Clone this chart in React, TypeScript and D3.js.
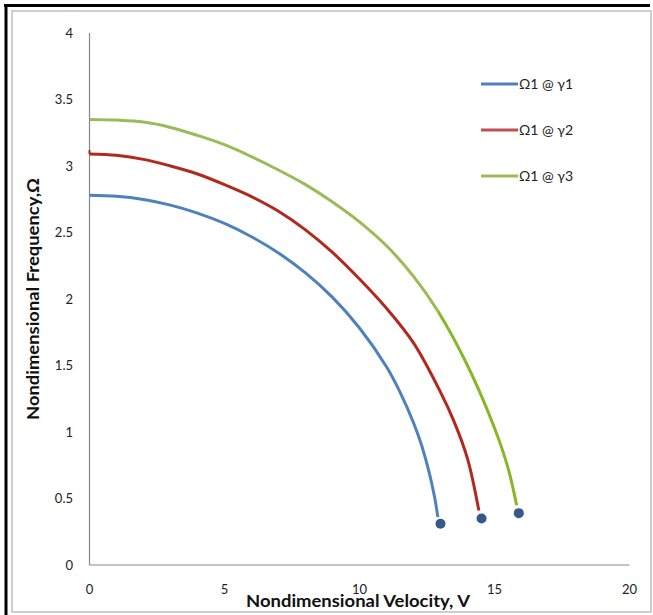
import React from "react";
import * as d3 from "d3";

const xTicks = [0, 5, 10, 15, 20];
const yTicks = [0, 0.5, 1, 1.5, 2, 2.5, 3, 3.5, 4];
const yTickLabels = ["0", "0.5", "1", "1.5", "2", "2.5", "3", "3.5", "4"];

const velocity1 = [0, 1, 2, 3, 4, 5, 6, 7, 8, 9, 10, 11, 11.5, 12, 12.3, 12.6, 12.8, 12.9];
const omega1 = [2.78, 2.772, 2.748, 2.706, 2.646, 2.568, 2.468, 2.346, 2.196, 2.012, 1.782, 1.49, 1.3, 1.07, 0.9, 0.68, 0.49, 0.36];

const redStartVelocity = [0, 0];
const redStartOmega = [3.12, 3.09];
const velocity2 = [0, 1, 2, 3, 4, 5, 6, 7, 8, 9, 10, 11, 12, 13, 13.5, 14, 14.42];
const omega2 = [3.09, 3.08, 3.05, 3.0, 2.94, 2.86, 2.77, 2.66, 2.52, 2.35, 2.15, 1.93, 1.67, 1.3, 1.08, 0.8, 0.41];

const velocity3 = [0, 1, 2, 3, 4, 5, 6, 7, 8, 9, 10, 11, 12, 12.9, 14, 15, 15.5, 15.82];
const omega3 = [3.35, 3.345, 3.33, 3.29, 3.23, 3.16, 3.07, 2.97, 2.86, 2.73, 2.58, 2.4, 2.17, 1.91, 1.5, 1.03, 0.73, 0.45];
const greenSplitVelocity = 12.9;

const endVelocity = [13.0, 14.52, 15.9];
const endOmega = [0.31, 0.35, 0.39];

const seriesNames = ["Ω1 @ γ1", "Ω1 @ γ2", "Ω1 @ γ3"];
const seriesColors = ["#4F81BD", "#B2281C", "#9BBB59"];
const greenLowerColor = "#86B825";
const legendColors = ["#4F81BD", "#C0504D", "#9BBB59"];

export default function App() {
  const x = d3.scaleLinear().domain([0, 20]).range([89.5, 629.5]);
  const y = d3.scaleLinear().domain([0, 4]).range([565, 33]);
  const line = d3
    .line<[number, number]>()
    .x((d) => x(d[0]))
    .y((d) => y(d[1]))
    .curve(d3.curveCatmullRom.alpha(0.5));
  const straight = d3
    .line<[number, number]>()
    .x((d) => x(d[0]))
    .y((d) => y(d[1]));

  const s1 = velocity1.map((v, i) => [v, omega1[i]] as [number, number]);
  const s2 = velocity2.map((v, i) => [v, omega2[i]] as [number, number]);
  const s2start = redStartVelocity.map((v, i) => [v, redStartOmega[i]] as [number, number]);
  const s3 = velocity3.map((v, i) => [v, omega3[i]] as [number, number]);

  const font = "Lato, 'Open Sans', sans-serif";
  const splitX = x(greenSplitVelocity);

  return (
    <svg
      width={653}
      height={615}
      style={{ position: "absolute", left: 0, top: 0, background: "#fff" }}
    >
      <defs>
        <clipPath id="upperClip">
          <rect x={0} y={0} width={splitX} height={615} />
        </clipPath>
        <clipPath id="lowerClip">
          <rect x={splitX} y={0} width={653 - splitX} height={615} />
        </clipPath>
      </defs>
      <rect x={0} y={0} width={653} height={615} fill="#fff" />
      {/* outer black frame (left and top) */}
      <line x1={6} y1={4} x2={6} y2={615} stroke="#000" strokeWidth={3} />
      <line x1={4} y1={5.5} x2={650} y2={5.5} stroke="#000" strokeWidth={3} />
      {/* inner gray frame */}
      <rect x={12} y={11} width={639} height={601} fill="none" stroke="#BDBDBD" strokeWidth={1.5} />

      {/* axes */}
      <line x1={x(0)} y1={y(4)} x2={x(0)} y2={y(0)} stroke="#888" strokeWidth={1.2} />
      <line x1={x(0)} y1={y(0)} x2={x(20)} y2={y(0)} stroke="#888" strokeWidth={1.2} />

      {yTicks.map((t, i) => (
        <text
          key={"y" + t}
          x={73}
          y={y(t)}
          dy="0.35em"
          textAnchor="end"
          fontFamily={font}
          fontSize={13}
          fill="#222"
        >
          {yTickLabels[i]}
        </text>
      ))}
      {xTicks.map((t) => (
        <text
          key={"x" + t}
          x={x(t)}
          y={589}
          dy="0.35em"
          textAnchor="middle"
          fontFamily={font}
          fontSize={13}
          fill="#222"
        >
          {t}
        </text>
      ))}

      <text
        x={246}
        y={607}
        textLength={224}
        lengthAdjust="spacingAndGlyphs"
        fontFamily={font}
        fontWeight="bold"
        fontSize={17}
        fill="#111"
      >
        Nondimensional Velocity, V
      </text>
      <text
        transform="translate(39,420) rotate(-90)"
        textLength={242}
        lengthAdjust="spacingAndGlyphs"
        fontFamily={font}
        fontWeight="bold"
        fontSize={17}
        fill="#111"
      >
        Nondimensional Frequency,Ω
      </text>

      {/* curves */}
      <path d={line(s1) || ""} fill="none" stroke={seriesColors[0]} strokeWidth={3} />
      <path d={straight(s2start) || ""} fill="none" stroke={seriesColors[1]} strokeWidth={2} />
      <path d={line(s2) || ""} fill="none" stroke={seriesColors[1]} strokeWidth={3} />
      <path d={line(s3) || ""} fill="none" stroke={seriesColors[2]} strokeWidth={3} clipPath="url(#upperClip)" />
      <path d={line(s3) || ""} fill="none" stroke={greenLowerColor} strokeWidth={3} clipPath="url(#lowerClip)" />

      {endVelocity.map((v, i) => (
        <circle key={"e" + i} cx={x(v)} cy={y(endOmega[i])} r={5} fill="#35598A" />
      ))}

      {/* legend */}
      {seriesNames.map((n, i) => (
        <g key={n} transform={`translate(0, ${84 + i * 46})`}>
          <line x1={481} x2={518} y1={0} y2={0} stroke={legendColors[i]} strokeWidth={3} />
          <text x={519} y={0} dy="0.35em" fontFamily={font} fontSize={14} fill="#222">
            {n}
          </text>
        </g>
      ))}
    </svg>
  );
}
